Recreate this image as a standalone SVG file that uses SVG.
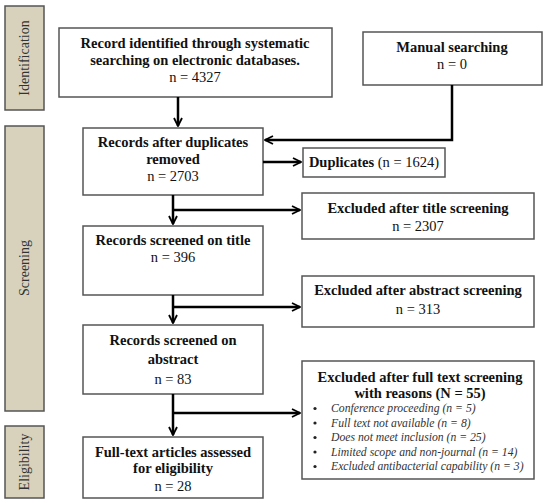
<svg xmlns="http://www.w3.org/2000/svg" width="550" height="503" viewBox="0 0 550 503">
<defs>
<style>
.side{fill:#d8d2bd;stroke:#555;stroke-width:1.5}
.box{fill:#fff;stroke:#555;stroke-width:1.5}
.lbl{font-family:"Liberation Serif",serif;font-size:14px;fill:#333;text-anchor:middle}
.b{font-family:"Liberation Serif",serif;font-size:14.5px;font-weight:bold;fill:#111;text-anchor:middle}
.n{font-family:"Liberation Serif",serif;font-size:14.5px;fill:#111;text-anchor:middle}
.it{font-family:"Liberation Serif",serif;font-size:11.7px;font-style:italic;fill:#333}
.dot{fill:#222}
.c{fill:none;stroke:#000;stroke-width:2.5}
</style>
<marker id="ah" viewBox="0 0 10 10" refX="9" refY="5" markerWidth="4" markerHeight="4" orient="auto" markerUnits="strokeWidth">
<path d="M1,1 L9,5 L1,9" fill="none" stroke="#000" stroke-width="1.8"/>
</marker>
</defs>
<rect width="550" height="503" fill="#fff"/>

<g id="phase-identification">
<rect class="side" x="5" y="6" width="39" height="104"/>
<text class="lbl" transform="translate(29,58) rotate(-90)">Identification</text>
</g>
<g id="phase-screening">
<rect class="side" x="5" y="126" width="39" height="285"/>
<text class="lbl" transform="translate(29,268) rotate(-90)">Screening</text>
</g>
<g id="phase-eligibility">
<rect class="side" x="5" y="426" width="39" height="72"/>
<text class="lbl" transform="translate(29,462) rotate(-90)">Eligibility</text>
</g>

<g id="n-identified">
<rect class="box" x="59" y="28" width="273" height="69"/>
<text class="b" x="195" y="48">Record identified through systematic</text>
<text class="b" x="195" y="65">searching on electronic databases.</text>
<text class="n" x="195" y="82">n = 4327</text>
</g>
<g id="n-manual">
<rect class="box" x="363" y="32" width="179" height="53"/>
<text class="b" x="452" y="52">Manual searching</text>
<text class="n" x="452" y="69">n = 0</text>
</g>
<g id="n-dedup">
<rect class="box" x="83" y="128" width="180" height="67"/>
<text class="b" x="173" y="147">Records after duplicates</text>
<text class="b" x="173" y="164">removed</text>
<text class="n" x="173" y="181">n = 2703</text>
</g>
<g id="n-duplicates">
<rect class="box" x="303" y="148" width="142" height="29"/>
<text x="374" y="167" font-family="Liberation Serif,serif" font-size="14.5" fill="#111" text-anchor="middle"><tspan font-weight="bold">Duplicates</tspan> (n = 1624)</text>
</g>
<g id="n-title">
<rect class="box" x="83" y="226" width="180" height="69"/>
<text class="b" x="173" y="245">Records screened on title</text>
<text class="n" x="173" y="262">n = 396</text>
</g>
<g id="n-excl-title">
<rect class="box" x="302" y="193" width="232" height="46"/>
<text class="b" x="418" y="213">Excluded after title screening</text>
<text class="n" x="418" y="231">n = 2307</text>
</g>
<g id="n-abstract">
<rect class="box" x="83" y="325" width="180" height="69"/>
<text class="b" x="173" y="345">Records screened on</text>
<text class="b" x="173" y="364">abstract</text>
<text class="n" x="173" y="384">n = 83</text>
</g>
<g id="n-excl-abstract">
<rect class="box" x="302" y="276" width="232" height="51"/>
<text class="b" x="418" y="295">Excluded after abstract screening</text>
<text class="n" x="418" y="314">n = 313</text>
</g>
<g id="n-fulltext">
<rect class="box" x="83" y="437" width="180" height="61"/>
<text class="b" x="173" y="457">Full-text articles assessed</text>
<text class="b" x="173" y="473">for eligibility</text>
<text class="n" x="173" y="491">n = 28</text>
</g>
<g id="n-excl-full">
<rect class="box" x="302" y="361" width="232" height="118"/>
<text class="b" x="420" y="382">Excluded after full text screening</text>
<text class="b" x="420" y="398">with reasons (N = 55)</text>
<circle class="dot" cx="315" cy="408.5" r="1.6"/>
<circle class="dot" cx="315" cy="423" r="1.6"/>
<circle class="dot" cx="315" cy="437.5" r="1.6"/>
<circle class="dot" cx="315" cy="452" r="1.6"/>
<circle class="dot" cx="315" cy="466.5" r="1.6"/>
<text class="it" x="331" y="412">Conference proceeding (n = 5)</text>
<text class="it" x="331" y="426.5">Full text not available (n = 8)</text>
<text class="it" x="331" y="441">Does not meet inclusion (n = 25)</text>
<text class="it" x="331" y="455.5">Limited scope and non-journal (n = 14)</text>
<text class="it" x="331" y="470">Excluded antibacterial capability (n = 3)</text>
</g>

<g id="connectors">
<path class="c" d="M178,97 V126" marker-end="url(#ah)"/>
<path class="c" d="M452,85 V140 H265" marker-end="url(#ah)"/>
<path class="c" d="M263,162 H301" marker-end="url(#ah)"/>
<path class="c" d="M173,195 V224" marker-end="url(#ah)"/>
<path class="c" d="M173,210 H300" marker-end="url(#ah)"/>
<path class="c" d="M173,295 V323" marker-end="url(#ah)"/>
<path class="c" d="M173,307 H300" marker-end="url(#ah)"/>
<path class="c" d="M173,394 V435" marker-end="url(#ah)"/>
<path class="c" d="M173,413 H300" marker-end="url(#ah)"/>
</g>
</svg>
